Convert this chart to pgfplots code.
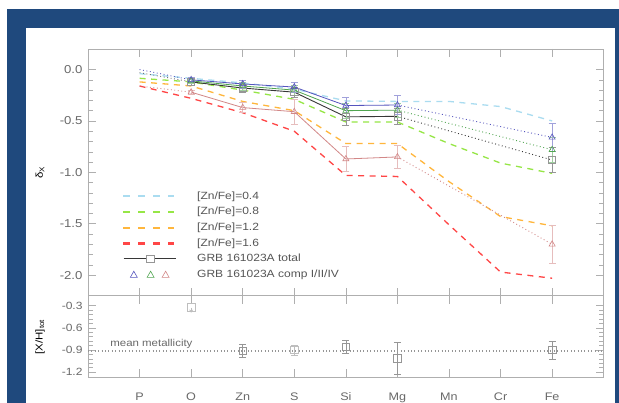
\documentclass[border=0pt]{standalone}
\usepackage{fontspec}
\setmainfont{Liberation Sans}[FakeStretch=1.15]
\usepackage{pgfplots}
\pgfplotsset{compat=1.18}
\usetikzlibrary{arrows.meta}

\definecolor{frameblue}{RGB}{31,73,125}
\definecolor{mlblue}{RGB}{170,220,240}
\definecolor{mgreen}{RGB}{150,230,70}
\definecolor{morange}{RGB}{255,182,60}
\definecolor{mred}{RGB}{255,70,70}
\definecolor{cblue}{RGB}{85,85,190}
\definecolor{cgreen}{RGB}{80,165,80}
\definecolor{cred}{RGB}{210,135,135}
\definecolor{tot}{RGB}{55,55,55}
\definecolor{axgray}{RGB}{175,175,175}
\definecolor{txtgray}{RGB}{105,105,105}
\definecolor{legtxt}{RGB}{85,85,85}
\definecolor{mkgray}{RGB}{150,150,150}
\definecolor{ltgray}{RGB}{190,190,190}

\pgfplotsset{
  panel/.style={
    scale only axis, width=515.7bp,
    xmin=-1, xmax=9, xtick={0,1,2,3,4,5,6,7,8},
    axis line style={axgray, line width=0.6bp},
    every tick/.style={axgray, line width=0.5bp},
    major tick length=8bp, minor tick length=4.5bp,
    tick align=inside,
    clip=false,
  },
  dashleg/.style={legend image code/.code={
      \fill[#1] (0bp,-0.55bp) rectangle (5.7bp,0.55bp);
      \fill[#1] (14.7bp,-0.55bp) rectangle (20.4bp,0.55bp);
      \fill[#1] (29.4bp,-0.55bp) rectangle (35.1bp,0.55bp);
      \fill[#1] (44.1bp,-0.55bp) rectangle (49.8bp,0.55bp);}},
  totleg/.style={legend image code/.code={\draw[tot, line width=1.1bp] (0bp,0bp) -- (52bp,0bp);
      \draw[mkgray, line width=0.6bp, fill=white] (23bp,-3.8bp) rectangle (31bp,3.8bp);}},
  trileg/.style={legend image code/.code={
      \draw[cblue, line width=0.6bp] (6.7bp,-2.8bp) -- (13.7bp,-2.8bp) -- (10.2bp,3.4bp) -- cycle;
      \draw[cgreen, line width=0.6bp] (23.5bp,-2.8bp) -- (30.5bp,-2.8bp) -- (27bp,3.4bp) -- cycle;
      \draw[cred, line width=0.6bp] (38.5bp,-2.8bp) -- (45.5bp,-2.8bp) -- (42bp,3.4bp) -- cycle;}},
  comp/.style={line width=0.8bp, mark=triangle, mark size=3.5bp, mark options={solid, line width=0.6bp},
    error bars/y dir=both, error bars/y explicit,
    error bars/error bar style={#1!55, line width=0.6bp, solid},
    error bars/error mark options={rotate=90, mark size=3.5bp, #1!55, line width=0.6bp}},
  dots/.style={line width=0.9bp, dash pattern=on 0.9bp off 2.6bp},
  model/.style={line width=1.3bp, dash pattern=on 6bp off 5.5bp},
  sqerr/.style={only marks, mark=square, mark size=3.8bp, mark options={line width=0.6bp},
    error bars/y dir=both, error bars/y explicit,
    error bars/error bar style={#1, line width=0.6bp},
    error bars/error mark options={rotate=90, mark size=3.5bp, #1, line width=0.6bp}},
}

\begin{document}
\begin{tikzpicture}
\useasboundingbox (0,0) rectangle (619bp,403bp);
\fill[white] (0,0) rectangle (619bp,403bp);
\fill[frameblue] (7bp,0) rectangle (619bp,394bp);
\fill[white] (26bp,0) rectangle (615bp,375bp);

% ---------------- top panel ----------------
\begin{axis}[panel,
  at={(88bp,107.3bp)}, anchor=south west, height=246.7bp,
  ymin=-2.2, ymax=0.2,
  ytick={-2,-1.5,-1,-0.5,0}, yticklabels={-2.0,-1.5,-1.0,-0.5,0.0},
  minor y tick num=4,
  xticklabels={{},{},{},{},{},{},{},{},{}},
  yticklabel style={font=\fontsize{11.5}{12}\selectfont, text=txtgray, xshift=-2bp},
  ylabel={δ\textsubscript{X}},
  ylabel style={font=\fontsize{11.5}{12}\selectfont, text=txtgray},
  every axis y label/.style={at={(axis description cs:-0.093,0.5)}, rotate=90, anchor=center},
  legend style={draw=none, fill=none, at={(axis description cs:0.068,0.424)}, anchor=north west,
    inner sep=0pt, outer sep=0pt, font=\fontsize{10.5}{12}\selectfont, text=legtxt,
    row sep=5.7bp, column sep=21bp,
    nodes={inner sep=0pt, text height=8bp, text depth=2bp}},
  legend cell align=left,
]
\addlegendimage{dashleg=mlblue}
\addlegendentry{[Zn/Fe]=0.4}
\addlegendimage{dashleg=mgreen}
\addlegendentry{[Zn/Fe]=0.8}
\addlegendimage{dashleg=morange}
\addlegendentry{[Zn/Fe]=1.2}
\addlegendimage{dashleg=mred}
\addlegendentry{[Zn/Fe]=1.6}
\addlegendimage{totleg}
\addlegendentry{GRB 161023A total}
\addlegendimage{trileg}
\addlegendentry{GRB 161023A comp I/II/IV}

% models
\addplot[model, mlblue, forget plot] coordinates {(0,-0.04) (1,-0.085) (2,-0.13) (3,-0.19) (4,-0.305) (5,-0.31) (6,-0.31) (7,-0.36) (8,-0.50)};
\addplot[model, mgreen, forget plot] coordinates {(0,-0.085) (1,-0.12) (2,-0.20) (3,-0.29) (4,-0.51) (5,-0.51) (6,-0.72) (7,-0.91) (8,-1.01)};
\addplot[model, morange, forget plot] coordinates {(0,-0.12) (1,-0.16) (2,-0.31) (3,-0.40) (4,-0.72) (5,-0.72) (6,-1.09) (7,-1.43) (8,-1.52)};
\addplot[model, mred, forget plot] coordinates {(0,-0.16) (1,-0.28) (2,-0.42) (3,-0.60) (4,-1.03) (5,-1.04) (6,-1.51) (7,-1.97) (8,-2.03)};

% dotted extrapolations
\addplot[dots, cblue, forget plot] coordinates {(0,0.0) (1,-0.10)};
\addplot[dots, tot!70, forget plot] coordinates {(0,-0.03) (1,-0.12)};
\addplot[dots, cred, forget plot] coordinates {(0,-0.16) (1,-0.22)};
\addplot[dots, cblue, forget plot] coordinates {(5,-0.345) (8,-0.66)};
\addplot[dots, cgreen, forget plot] coordinates {(5,-0.395) (8,-0.78)};
\addplot[dots, tot, forget plot] coordinates {(5,-0.455) (8,-0.88)};
\addplot[dots, cred, forget plot] coordinates {(5,-0.85) (8,-1.70)};

% component IV (red)
\addplot[cred, forget plot, comp=cred] coordinates {(1,-0.22) +- (0,0.02) (2,-0.37) +- (0,0.05) (3,-0.41) +- (0,0.12) (4,-0.87) +- (0,0.12) (5,-0.85) +- (0,0.11)};
\addplot[cred, only marks, forget plot, comp=cred] coordinates {(8,-1.70) +- (0,0.18)};
% total (black)
\addplot[tot, line width=0.9bp, mark=square, mark size=3.6bp, mark options={mkgray, line width=0.6bp}, forget plot,
  error bars/y dir=both, error bars/y explicit, error bars/error bar style={mkgray, line width=0.6bp},
  error bars/error mark options={rotate=90, mark size=3.5bp, mkgray, line width=0.6bp}]
  coordinates {(1,-0.12) +- (0,0.03) (2,-0.18) +- (0,0.04) (3,-0.22) +- (0,0.05) (4,-0.46) +- (0,0.08) (5,-0.455) +- (0,0.08)};
\addplot[tot, forget plot, sqerr=mkgray, mark options={mkgray, line width=0.6bp}, mark size=3.6bp]
  coordinates {(8,-0.88) +- (0,0.12)};
% component II (green)
\addplot[cgreen, forget plot, comp=cgreen] coordinates {(1,-0.11) +- (0,0.02) (2,-0.16) +- (0,0.04) (3,-0.20) +- (0,0.05) (4,-0.40) +- (0,0.07) (5,-0.395) +- (0,0.07)};
\addplot[cgreen, only marks, forget plot, comp=cgreen] coordinates {(8,-0.78) +- (0,0.12)};
% component I (blue)
\addplot[cblue, forget plot, comp=cblue] coordinates {(1,-0.10) +- (0,0.02) (2,-0.14) +- (0,0.04) (3,-0.17) +- (0,0.05) (4,-0.35) +- (0,0.08) (5,-0.345) +- (0,0.09)};
\addplot[cblue, only marks, forget plot, comp=cblue] coordinates {(8,-0.66) +- (0,0.14)};
\end{axis}

% ---------------- bottom panel ----------------
\begin{axis}[panel,
  at={(88bp,25.7bp)}, anchor=south west, height=81.6bp,
  ymin=-1.27, ymax=-0.165,
  ytick={-1.2,-0.9,-0.6,-0.3}, yticklabels={-1.2,-0.9,-0.6,-0.3},
  minor y tick num=4,
  xticklabels={P,O,Zn,S,Si,Mg,Mn,Cr,Fe},
  xticklabel style={font=\fontsize{11}{12}\selectfont, text=txtgray, yshift=-12bp},
  yticklabel style={font=\fontsize{10.5}{12}\selectfont, text=txtgray, xshift=-2bp},
  ylabel={[X/H]\textsubscript{tot}},
  ylabel style={font=\fontsize{11}{12}\selectfont, text=txtgray},
  every axis y label/.style={at={(axis description cs:-0.093,0.494)}, rotate=90, anchor=center},
]
\addplot[mkgray, line width=1.2bp, dash pattern=on 1bp off 2.4bp] coordinates {(-1,-0.915) (9,-0.915)};
\node[font=\fontsize{10}{12}\selectfont, text=txtgray] at (axis cs:0.23,-0.815) {mean metallicity};
\addplot[ltgray, only marks, mark=square, mark size=3.8bp, mark options={line width=0.6bp},
  error bars/y dir=minus, error bars/y explicit,
  error bars/error bar style={ltgray, line width=0.8bp, -{Stealth[length=3bp,width=4bp]}},
  error bars/error mark=none]
  coordinates {(1,-0.325) +- (0,0.07)};
\addplot[ltgray, sqerr=ltgray] coordinates {(3,-0.90) +- (0,0.07)};
\addplot[mkgray, sqerr=mkgray]
  coordinates {(2,-0.91) +- (0,0.085) (4,-0.855) +- (0,0.085) (5,-1.01) +- (0,0.22) (8,-0.90) +- (0,0.12)};
\end{axis}
\end{tikzpicture}
\end{document}
